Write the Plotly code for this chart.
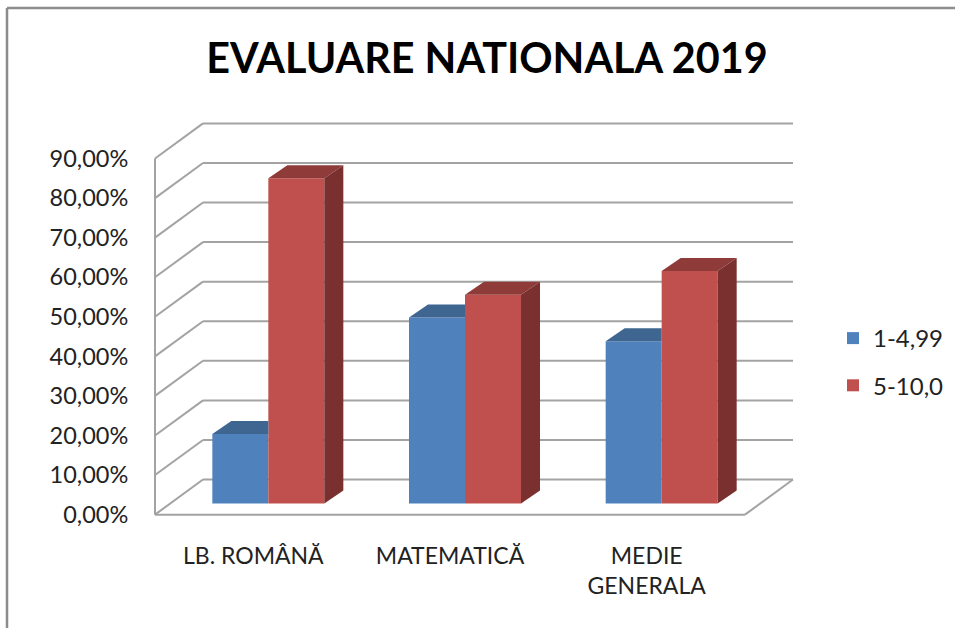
import plotly.graph_objects as go

# ---- data ----
categories = ["LB. ROMÂNĂ", "MATEMATICĂ", "MEDIE<br>GENERALA"]
series_names = ["1-4,99", "5-10,0"]
low_values = [17.6, 47.0, 41.0]
high_values = [82.2, 52.8, 58.8]
y_ticks = [0, 10, 20, 30, 40, 50, 60, 70, 80, 90]
y_tick_labels = ["0,00%", "10,00%", "20,00%", "30,00%", "40,00%",
                 "50,00%", "60,00%", "70,00%", "80,00%", "90,00%"]
title_text = "EVALUARE NATIONALA 2019"

# ---- projection of the fake 3D box, in axis units ----
W, H = 955, 628
FIG_H = 638                 # measured: figure height that photographs as the 628px layout
PLOT_L, PLOT_R, PLOT_T, PLOT_B = 150, 798, 118, 518   # a little padding so edge lines are not clipped
AXIS_L, AXIS_B, FLOOR_R, BACK_R, BACK_T = 155, 513, 745, 793, 124
X_PX = (FLOOR_R - AXIS_L) / len(categories)     # px per category
Y_PX = (AXIS_B - 158) / y_ticks[-1]             # px per percent
WALL_DX, WALL_DY = (BACK_R - FLOOR_R) / X_PX, 35 / Y_PX
BAR_W = 56 / X_PX
BAR_DX0, BAR_DY0 = 15 / X_PX, 11 / Y_PX
BAR_DX, BAR_DY = 19 / X_PX, 13 / Y_PX
X0, X1 = -0.5, len(categories) - 0.5

BLUE, BLUE_TOP = "#4F81BD", "#3F6591"
RED, RED_TOP, RED_SIDE = "#C0504D", "#8F3B39", "#7A302E"
GRID = "#A3A3A3"
FONT = "Lato"

idx = list(range(len(categories)))
fig = go.Figure()

# front faces
fig.add_trace(go.Bar(x=[i + BAR_DX0 - BAR_W for i in idx], y=low_values, base=BAR_DY0,
                     width=BAR_W, offset=0, marker=dict(color=BLUE, line=dict(width=0)),
                     name=series_names[0], legendgroup="a"))
fig.add_trace(go.Bar(x=[i + BAR_DX0 for i in idx], y=high_values, base=BAR_DY0,
                     width=BAR_W, offset=0, marker=dict(color=RED, line=dict(width=0)),
                     name=series_names[1], legendgroup="b"))


def face(xs, ys, color):
    fig.add_trace(go.Scatter(x=xs, y=ys, mode="none", fill="toself", fillcolor=color,
                             showlegend=False, hoverinfo="skip"))


for i, low, high in zip(idx, low_values, high_values):
    mid = i + BAR_DX0
    left, right = mid - BAR_W, mid + BAR_W
    low_top, high_top = BAR_DY0 + low, BAR_DY0 + high
    # blue roof, hidden behind the red front face past its left edge
    face([left, left + BAR_DX, mid, mid],
         [low_top, low_top + BAR_DY, low_top + BAR_DY, low_top], BLUE_TOP)
    # red roof
    face([mid, mid + BAR_DX, right + BAR_DX, right],
         [high_top, high_top + BAR_DY, high_top + BAR_DY, high_top], RED_TOP)
    # red side
    face([right, right + BAR_DX, right + BAR_DX, right],
         [BAR_DY0, BAR_DY0 + BAR_DY, high_top + BAR_DY, high_top], RED_SIDE)

# walls and gridlines under the bars
shapes = []


def seg(x0, y0, x1, y1):
    shapes.append(dict(type="line", xref="x", yref="y", x0=x0, y0=y0, x1=x1, y1=y1,
                       layer="below", line=dict(color=GRID, width=2)))


for t in y_ticks:
    seg(X0, t, X0 + WALL_DX, t + WALL_DY)
    seg(X0 + WALL_DX, t + WALL_DY, X1 + WALL_DX, t + WALL_DY)
seg(X0, y_ticks[0], X0, y_ticks[-1])
seg(X0, y_ticks[0], X1, y_ticks[0])
seg(X1, y_ticks[0], X1 + WALL_DX, WALL_DY)

# picture frame (top and left only, as in the source)
FRAME = "#8C8C8C"
shapes.append(dict(type="line", xref="paper", yref="paper", x0=7 / W, x1=1,
                   y0=1 - 8 / H, y1=1 - 8 / H, line=dict(color=FRAME, width=2.5)))
shapes.append(dict(type="line", xref="paper", yref="paper", x0=7 / W, x1=7 / W,
                   y0=0, y1=1 - 8 / H, line=dict(color=FRAME, width=2.5)))

fig.update_layout(
    width=W, height=FIG_H, autosize=False,
    margin=dict(l=0, r=0, t=0, b=0),
    paper_bgcolor="white", plot_bgcolor="rgba(0,0,0,0)",
    barmode="overlay", shapes=shapes,
    font=dict(family=FONT, color="#222222"),
    title=dict(text=f"<b>{title_text}</b>", x=487 / W, xanchor="center", xref="paper",
               y=1 - 58 / H, yanchor="middle", yref="paper",
               font=dict(family=FONT, size=41.3, color="black")),
    xaxis=dict(domain=[PLOT_L / W, PLOT_R / W],
               range=[X0 - (AXIS_L - PLOT_L) / X_PX, X1 + WALL_DX + (PLOT_R - BACK_R) / X_PX],
               tickmode="array", tickvals=idx, ticktext=categories,
               showgrid=False, zeroline=False, showline=False,
               ticks="outside", ticklen=16, tickcolor="rgba(0,0,0,0)",
               tickfont=dict(family=FONT, size=23, color="#222222")),
    yaxis=dict(domain=[1 - PLOT_B / H, 1 - PLOT_T / H],
               range=[-(PLOT_B - AXIS_B) / Y_PX, (AXIS_B - PLOT_T) / Y_PX],
               tickmode="array", tickvals=y_ticks, ticktext=y_tick_labels,
               showgrid=False, zeroline=False, showline=False,
               ticks="outside", ticklen=16, tickcolor="rgba(0,0,0,0)",
               tickfont=dict(family=FONT, size=23.5, color="#222222")),
    legend=dict(x=833 / W, y=1 - 315 / H, xanchor="left", yanchor="top",
                bgcolor="rgba(0,0,0,0)", tracegroupgap=13, itemwidth=30,
                font=dict(family=FONT, size=24, color="#222222")),
)

# the page's default 8px body margin would push the figure off the window
fig.write_html(
    "out.html",
    config={"displayModeBar": False},
    post_script="document.documentElement.style.cssText='margin:0;overflow:hidden;height:628px';"
                "document.body.style.cssText='margin:0;overflow:hidden;height:628px';",
)
